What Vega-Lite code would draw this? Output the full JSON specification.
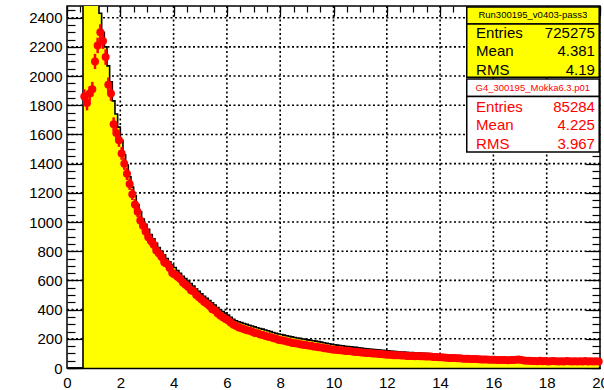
{
  "$schema": "https://vega.github.io/schema/vega-lite/v6.json",
  "width": 533,
  "height": 362,
  "autosize": "none",
  "padding": {"left": 67, "top": 6, "right": 4, "bottom": 22},
  "background": "white",
  "config": {
    "view": {"stroke": "black", "strokeWidth": 1.5},
    "axis": {"labelFont": "Liberation Sans", "labelFontSize": 15, "labelColor": "black", "tickColor": "black", "tickWidth": 1.2, "domainColor": "black", "format": "d", "grid": false},
    "text": {"font": "Liberation Sans"}
  },
  "datasets": {
    "gridx": [{"v": 2}, {"v": 4}, {"v": 6}, {"v": 8}, {"v": 10}, {"v": 12}, {"v": 14}, {"v": 16}, {"v": 18}],
    "gridy": [{"v": 200}, {"v": 400}, {"v": 600}, {"v": 800}, {"v": 1000}, {"v": 1200}, {"v": 1400}, {"v": 1600}, {"v": 1800}, {"v": 2000}, {"v": 2200}, {"v": 2400}],
    "hist": [
      {"x":0.05,"h":0},{"x":0.15,"h":0},{"x":0.25,"h":0},{"x":0.35,"h":0},{"x":0.45,"h":0},{"x":0.55,"h":0},
      {"x":0.65,"h":3500,"m":1860,"e":50},{"x":0.75,"h":3350,"m":1815,"e":50},{"x":0.85,"h":3150,"m":1880,"e":50},{"x":0.95,"h":2950,"m":1910,"e":50},
      {"x":1.05,"h":2800,"m":2100,"e":52},{"x":1.15,"h":2600,"m":2210,"e":53},{"x":1.25,"h":2430,"m":2300,"e":55},{"x":1.35,"h":2300,"m":2240,"e":54},{"x":1.45,"h":2200,"m":2130,"e":53},
      {"x":1.55,"h":2070,"m":1940,"e":50},{"x":1.65,"h":1960,"m":1880,"e":50},{"x":1.75,"h":1830,"m":1670,"e":47},{"x":1.85,"h":1740,"m":1610,"e":46},{"x":1.95,"h":1650,"m":1560,"e":45},
      {"x":2.05,"h":1560,"m":1470,"e":44},{"x":2.15,"h":1460,"m":1400,"e":43},{"x":2.25,"h":1390,"m":1330,"e":42},{"x":2.35,"h":1310,"m":1260,"e":40},{"x":2.45,"h":1240,"m":1190,"e":39},
      {"x":2.55,"h":1180,"m":1120,"e":38},{"x":2.65,"h":1120,"m":1070,"e":37},{"x":2.75,"h":1070,"m":1010,"e":36},{"x":2.85,"h":1020,"m":975,"e":36},{"x":2.95,"h":985,"m":935,"e":35},
      {"x":3.05,"h":950,"m":895,"e":34},{"x":3.15,"h":915,"m":870,"e":34},{"x":3.25,"h":885,"m":845,"e":33},{"x":3.35,"h":855,"m":805,"e":33},{"x":3.45,"h":825,"m":785,"e":33},
      {"x":3.55,"h":800,"m":760,"e":32},{"x":3.65,"h":775,"m":725,"e":32},{"x":3.75,"h":750,"m":715,"e":31},{"x":3.85,"h":728,"m":685,"e":31},{"x":3.95,"h":705,"m":650,"e":30},
      {"x":4.05,"h":688,"m":640,"e":30},{"x":4.15,"h":668,"m":625,"e":29},{"x":4.25,"h":648,"m":610,"e":29},{"x":4.35,"h":628,"m":585,"e":28},{"x":4.45,"h":612,"m":570,"e":28},
      {"x":4.55,"h":596,"m":555,"e":28},{"x":4.65,"h":578,"m":532,"e":27},{"x":4.75,"h":562,"m":525,"e":27},{"x":4.85,"h":543,"m":500,"e":26},{"x":4.95,"h":525,"m":485,"e":26},
      {"x":5.05,"h":508,"m":470,"e":25},{"x":5.15,"h":492,"m":452,"e":25},{"x":5.25,"h":477,"m":440,"e":25},{"x":5.35,"h":462,"m":425,"e":24},{"x":5.45,"h":447,"m":402,"e":24},
      {"x":5.55,"h":432,"m":395,"e":24},{"x":5.65,"h":414,"m":375,"e":23},{"x":5.75,"h":398,"m":360,"e":23},{"x":5.85,"h":387,"m":348,"e":22},{"x":5.95,"h":376,"m":335,"e":22},
      {"x":6.05,"h":362,"m":325,"e":22},{"x":6.15,"h":348,"m":310,"e":21},{"x":6.25,"h":333,"m":296,"e":21},{"x":6.35,"h":324,"m":288,"e":21},{"x":6.45,"h":317,"m":278,"e":20},
      {"x":6.55,"h":311,"m":272,"e":20},{"x":6.65,"h":305,"m":265,"e":20},{"x":6.75,"h":299,"m":258,"e":20},{"x":6.85,"h":293,"m":255,"e":20},{"x":6.95,"h":288,"m":248,"e":19},
      {"x":7.05,"h":282,"m":240,"e":19},{"x":7.15,"h":276,"m":238,"e":19},{"x":7.25,"h":271,"m":230,"e":19},{"x":7.35,"h":266,"m":226,"e":19},{"x":7.45,"h":260,"m":220,"e":18},
      {"x":7.55,"h":255,"m":214,"e":18},{"x":7.65,"h":249,"m":210,"e":18},{"x":7.75,"h":243,"m":204,"e":18},{"x":7.85,"h":237,"m":200,"e":18},{"x":7.95,"h":233,"m":192,"e":17},
      {"x":8.05,"h":229,"m":190,"e":17},{"x":8.15,"h":225,"m":186,"e":17},{"x":8.25,"h":221,"m":182,"e":17},{"x":8.35,"h":217,"m":178,"e":17},{"x":8.45,"h":213,"m":172,"e":17},
      {"x":8.55,"h":209,"m":170,"e":16},{"x":8.65,"h":206,"m":167,"e":16},{"x":8.75,"h":203,"m":162,"e":16},{"x":8.85,"h":199,"m":160,"e":16},{"x":8.95,"h":196,"m":158,"e":16},
      {"x":9.05,"h":193,"m":154,"e":16},{"x":9.15,"h":190,"m":152,"e":16},{"x":9.25,"h":187,"m":148,"e":15},{"x":9.35,"h":184,"m":146,"e":15},{"x":9.45,"h":181,"m":143,"e":15},
      {"x":9.55,"h":177,"m":141,"e":15},{"x":9.65,"h":173,"m":135,"e":15},{"x":9.75,"h":169,"m":133,"e":15},{"x":9.85,"h":166,"m":130,"e":15},{"x":9.95,"h":163,"m":127,"e":14},
      {"x":10.05,"h":159,"m":125,"e":14},{"x":10.15,"h":157,"m":124,"e":14},{"x":10.25,"h":154,"m":121,"e":14},{"x":10.35,"h":152,"m":120,"e":14},{"x":10.45,"h":149,"m":116,"e":14},
      {"x":10.55,"h":147,"m":117,"e":14},{"x":10.65,"h":145,"m":114,"e":14},{"x":10.75,"h":143,"m":112,"e":14},{"x":10.85,"h":141,"m":110,"e":14},{"x":10.95,"h":139,"m":109,"e":13},
      {"x":11.05,"h":136,"m":106,"e":13},{"x":11.15,"h":134,"m":105,"e":13},{"x":11.25,"h":132,"m":102,"e":13},{"x":11.35,"h":130,"m":102,"e":13},{"x":11.45,"h":128,"m":99,"e":13},
      {"x":11.55,"h":126,"m":99,"e":13},{"x":11.65,"h":125,"m":97,"e":13},{"x":11.75,"h":123,"m":96,"e":13},{"x":11.85,"h":121,"m":94,"e":13},{"x":11.95,"h":119,"m":92,"e":12},
      {"x":12.05,"h":117,"m":91,"e":12},{"x":12.15,"h":116,"m":91,"e":12},{"x":12.25,"h":114,"m":88,"e":12},{"x":12.35,"h":113,"m":88,"e":12},{"x":12.45,"h":111,"m":87,"e":12},
      {"x":12.55,"h":110,"m":86,"e":12},{"x":12.65,"h":109,"m":85,"e":12},{"x":12.75,"h":107,"m":83,"e":12},{"x":12.85,"h":106,"m":83,"e":12},{"x":12.95,"h":105,"m":83,"e":12},
      {"x":13.05,"h":104,"m":81,"e":12},{"x":13.15,"h":103,"m":82,"e":12},{"x":13.25,"h":102,"m":80,"e":12},{"x":13.35,"h":101,"m":81,"e":12},{"x":13.45,"h":100,"m":79,"e":12},
      {"x":13.55,"h":99,"m":79,"e":11},{"x":13.65,"h":97,"m":78,"e":11},{"x":13.75,"h":95,"m":76,"e":11},{"x":13.85,"h":93,"m":76,"e":11},{"x":13.95,"h":91,"m":74,"e":11},
      {"x":14.05,"h":89,"m":73,"e":11},{"x":14.15,"h":87,"m":72,"e":11},{"x":14.25,"h":85,"m":70,"e":11},{"x":14.35,"h":83,"m":69,"e":11},{"x":14.45,"h":82,"m":68,"e":11},
      {"x":14.55,"h":81,"m":68,"e":11},{"x":14.65,"h":80,"m":66,"e":11},{"x":14.75,"h":79,"m":66,"e":11},{"x":14.85,"h":78,"m":64,"e":11},{"x":14.95,"h":77,"m":64,"e":11},
      {"x":15.05,"h":76,"m":63,"e":11},{"x":15.15,"h":75,"m":62,"e":10},{"x":15.25,"h":74,"m":61,"e":10},{"x":15.35,"h":73,"m":61,"e":10},{"x":15.45,"h":72,"m":60,"e":10},
      {"x":15.55,"h":72,"m":59,"e":10},{"x":15.65,"h":71,"m":58,"e":10},{"x":15.75,"h":70,"m":58,"e":10},{"x":15.85,"h":70,"m":57,"e":10},{"x":15.95,"h":69,"m":56,"e":10},
      {"x":16.05,"h":68,"m":56,"e":10},{"x":16.15,"h":68,"m":55,"e":10},{"x":16.25,"h":67,"m":55,"e":10},{"x":16.35,"h":67,"m":54,"e":10},{"x":16.45,"h":66,"m":54,"e":10},
      {"x":16.55,"h":66,"m":53,"e":10},{"x":16.65,"h":66,"m":54,"e":10},{"x":16.75,"h":65,"m":55,"e":10},{"x":16.85,"h":65,"m":57,"e":10},{"x":16.95,"h":64,"m":58,"e":10},
      {"x":17.05,"h":64,"m":55,"e":10},{"x":17.15,"h":63,"m":51,"e":10},{"x":17.25,"h":63,"m":50,"e":10},{"x":17.35,"h":62,"m":49,"e":10},{"x":17.45,"h":62,"m":48,"e":10},
      {"x":17.55,"h":62,"m":48,"e":10},{"x":17.65,"h":61,"m":47,"e":10},{"x":17.75,"h":61,"m":49,"e":10},{"x":17.85,"h":60,"m":46,"e":10},{"x":17.95,"h":60,"m":48,"e":10},
      {"x":18.05,"h":60,"m":45,"e":10},{"x":18.15,"h":59,"m":47,"e":10},{"x":18.25,"h":59,"m":48,"e":10},{"x":18.35,"h":58,"m":46,"e":10},{"x":18.45,"h":58,"m":45,"e":10},
      {"x":18.55,"h":58,"m":47,"e":10},{"x":18.65,"h":57,"m":44,"e":10},{"x":18.75,"h":57,"m":48,"e":10},{"x":18.85,"h":57,"m":46,"e":10},{"x":18.95,"h":56,"m":45,"e":10},
      {"x":19.05,"h":56,"m":47,"e":10},{"x":19.15,"h":56,"m":44,"e":10},{"x":19.25,"h":55,"m":46,"e":10},{"x":19.35,"h":55,"m":45,"e":10},{"x":19.45,"h":55,"m":48,"e":10},
      {"x":19.55,"h":54,"m":44,"e":10},{"x":19.65,"h":54,"m":46,"e":10},{"x":19.75,"h":54,"m":45,"e":10},{"x":19.85,"h":53,"m":47,"e":10},{"x":19.95,"h":53,"m":44,"e":10}
    ],
    "stats": [
      {"box": "data", "title": "Run300195_v0403-pass3", "labels": "Entries\nMean\nRMS", "values": "725275\n4.381\n4.19"},
      {"box": "mc", "title": "G4_300195_Mokka6.3.p01", "labels": "Entries\nMean\nRMS", "values": "85284\n4.225\n3.967"}
    ]
  },
  "resolve": {"axis": {"x": "independent", "y": "independent"}},
  "layer": [
    {
      "data": {"name": "gridx"},
      "mark": {"type": "rule", "color": "#000000", "opacity": 1, "strokeWidth": 1.6, "strokeDash": [2, 2.5]},
      "encoding": {
        "x": {"field": "v", "type": "quantitative", "scale": {"domain": [0, 20], "nice": false, "zero": false}, "axis": null}
      }
    },
    {
      "data": {"name": "gridy"},
      "mark": {"type": "rule", "color": "#000000", "opacity": 1, "strokeWidth": 1.6, "strokeDash": [2, 2.5]},
      "encoding": {
        "y": {"field": "v", "type": "quantitative", "scale": {"domain": [0, 2480], "nice": false}, "axis": null}
      }
    },
    {
      "data": {"name": "hist"},
      "mark": {"type": "area", "interpolate": "step", "color": "#ffff00", "clip": true},
      "encoding": {
        "x": {"field": "x", "type": "quantitative", "scale": {"domain": [0, 20], "nice": false, "zero": false},
              "axis": null},
        "y": {"field": "h", "type": "quantitative", "scale": {"domain": [0, 2480], "nice": false},
              "axis": {"orient": "left", "values": [0,200,400,600,800,1000,1200,1400,1600,1800,2000,2200,2400], "tickSize": -15, "labelPadding": 20, "labelFlush": false, "domain": false, "title": null}}
      }
    },
    {
      "data": {"name": "hist"},
      "mark": {"type": "line", "interpolate": "step", "color": "black", "strokeWidth": 1.6, "clip": true},
      "encoding": {
        "x": {"field": "x", "type": "quantitative", "scale": {"domain": [0, 20], "nice": false, "zero": false},
              "axis": {"orient": "bottom", "values": [0,2,4,6,8,10,12,14,16,18,20], "ticks": false, "labelPadding": 7, "labelFlush": false, "labelOverlap": false, "domain": true, "domainWidth": 1.5, "zindex": 1, "title": null}},
        "y": {"field": "h", "type": "quantitative", "scale": {"domain": [0, 2480], "nice": false},
              "axis": {"orient": "right", "values": [0,200,400,600,800,1000,1200,1400,1600,1800,2000,2200,2400], "tickSize": -15, "labels": false, "domain": false, "title": null}}
      }
    },
    {
      "data": {"name": "hist"},
      "transform": [{"filter": "isValid(datum.m)"}],
      "mark": {"type": "errorbar", "color": "red", "thickness": 2.5},
      "encoding": {
        "x": {"field": "x", "type": "quantitative", "scale": {"domain": [0, 20], "nice": false, "zero": false},
              "axis": {"orient": "top", "values": [0,0.5,1,1.5,2,2.5,3,3.5,4,4.5,5,5.5,6,6.5,7,7.5,8,8.5,9,9.5,10,10.5,11,11.5,12,12.5,13,13.5,14,14.5,15,15.5,16,16.5,17,17.5,18,18.5,19,19.5,20], "tickSize": -6, "labels": false, "domain": false, "title": null}},
        "y": {"field": "m", "type": "quantitative", "scale": {"domain": [0, 2480], "nice": false},
              "axis": {"orient": "left", "values": [0,50,100,150,200,250,300,350,400,450,500,550,600,650,700,750,800,850,900,950,1000,1050,1100,1150,1200,1250,1300,1350,1400,1450,1500,1550,1600,1650,1700,1750,1800,1850,1900,1950,2000,2050,2100,2150,2200,2250,2300,2350,2400,2450], "tickSize": -8, "labels": false, "domain": false, "title": null}},
        "yError": {"field": "e"}
      }
    },
    {
      "data": {"name": "hist"},
      "transform": [{"filter": "isValid(datum.m)"}],
      "mark": {"type": "point", "shape": "circle", "filled": true, "color": "red", "size": 64, "opacity": 1},
      "encoding": {
        "x": {"field": "x", "type": "quantitative", "scale": {"domain": [0, 20], "nice": false, "zero": false},
              "axis": {"orient": "top", "values": [0,2,4,6,8,10,12,14,16,18,20], "tickSize": -10, "labels": false, "domain": false, "title": null}},
        "y": {"field": "m", "type": "quantitative", "scale": {"domain": [0, 2480], "nice": false},
              "axis": {"orient": "right", "values": [0,50,100,150,200,250,300,350,400,450,500,550,600,650,700,750,800,850,900,950,1000,1050,1100,1150,1200,1250,1300,1350,1400,1450,1500,1550,1600,1650,1700,1750,1800,1850,1900,1950,2000,2050,2100,2150,2200,2250,2300,2350,2400,2450], "tickSize": -8, "labels": false, "domain": false, "title": null}}
      }
    },
    {
      "data": {"name": "stats"},
      "transform": [{"filter": "datum.box === 'data'"}],
      "mark": {"type": "rect", "fill": "#ffff00", "stroke": "black", "strokeWidth": 1.5},
      "encoding": {
        "x": {"datum": 15.0, "type": "quantitative", "axis": null}, "x2": {"datum": 19.97},
        "y": {"datum": 2473, "type": "quantitative", "axis": null}, "y2": {"datum": 2357}
      }
    },
    {
      "data": {"name": "stats"},
      "transform": [{"filter": "datum.box === 'data'"}],
      "mark": {"type": "rect", "fill": "#ffff00", "stroke": "black", "strokeWidth": 1.5},
      "encoding": {
        "x": {"datum": 15.0, "type": "quantitative", "axis": null}, "x2": {"datum": 19.97},
        "y": {"datum": 2357, "type": "quantitative", "axis": null}, "y2": {"datum": 1992}
      }
    },
    {
      "data": {"name": "stats"},
      "transform": [{"filter": "datum.box === 'mc'"}],
      "mark": {"type": "rect", "fill": "white", "stroke": "black", "strokeWidth": 1.5},
      "encoding": {
        "x": {"datum": 15.0, "type": "quantitative", "axis": null}, "x2": {"datum": 19.97},
        "y": {"datum": 1980, "type": "quantitative", "axis": null}, "y2": {"datum": 1860}
      }
    },
    {
      "data": {"name": "stats"},
      "transform": [{"filter": "datum.box === 'mc'"}],
      "mark": {"type": "rect", "fill": "white", "stroke": "black", "strokeWidth": 1.5},
      "encoding": {
        "x": {"datum": 15.0, "type": "quantitative", "axis": null}, "x2": {"datum": 19.97},
        "y": {"datum": 1860, "type": "quantitative", "axis": null}, "y2": {"datum": 1480}
      }
    },
    {
      "data": {"name": "stats"},
      "transform": [{"filter": "datum.box === 'data'"}],
      "mark": {"type": "text", "align": "center", "baseline": "middle", "fontSize": 9.5, "color": "black"},
      "encoding": {
        "x": {"datum": 17.48, "type": "quantitative", "axis": null},
        "y": {"datum": 2415, "type": "quantitative", "axis": null},
        "text": {"field": "title"}
      }
    },
    {
      "data": {"name": "stats"},
      "transform": [{"filter": "datum.box === 'data'"}],
      "mark": {"type": "text", "align": "left", "baseline": "middle", "fontSize": 15, "lineHeight": 18.3, "lineBreak": "\n", "color": "black"},
      "encoding": {
        "x": {"datum": 15.35, "type": "quantitative", "axis": null},
        "y": {"datum": 2295, "type": "quantitative", "axis": null},
        "text": {"field": "labels"}
      }
    },
    {
      "data": {"name": "stats"},
      "transform": [{"filter": "datum.box === 'data'"}],
      "mark": {"type": "text", "align": "right", "baseline": "middle", "fontSize": 15, "lineHeight": 18.3, "lineBreak": "\n", "color": "black"},
      "encoding": {
        "x": {"datum": 19.81, "type": "quantitative", "axis": null},
        "y": {"datum": 2295, "type": "quantitative", "axis": null},
        "text": {"field": "values"}
      }
    },
    {
      "data": {"name": "stats"},
      "transform": [{"filter": "datum.box === 'mc'"}],
      "mark": {"type": "text", "align": "center", "baseline": "middle", "fontSize": 9.5, "color": "red"},
      "encoding": {
        "x": {"datum": 17.48, "type": "quantitative", "axis": null},
        "y": {"datum": 1918, "type": "quantitative", "axis": null},
        "text": {"field": "title"}
      }
    },
    {
      "data": {"name": "stats"},
      "transform": [{"filter": "datum.box === 'mc'"}],
      "mark": {"type": "text", "align": "left", "baseline": "middle", "fontSize": 15, "lineHeight": 18.3, "lineBreak": "\n", "color": "red"},
      "encoding": {
        "x": {"datum": 15.35, "type": "quantitative", "axis": null},
        "y": {"datum": 1788, "type": "quantitative", "axis": null},
        "text": {"field": "labels"}
      }
    },
    {
      "data": {"name": "stats"},
      "transform": [{"filter": "datum.box === 'mc'"}],
      "mark": {"type": "text", "align": "right", "baseline": "middle", "fontSize": 15, "lineHeight": 18.3, "lineBreak": "\n", "color": "red"},
      "encoding": {
        "x": {"datum": 19.81, "type": "quantitative", "axis": null},
        "y": {"datum": 1788, "type": "quantitative", "axis": null},
        "text": {"field": "values"}
      }
    }
  ]
}
